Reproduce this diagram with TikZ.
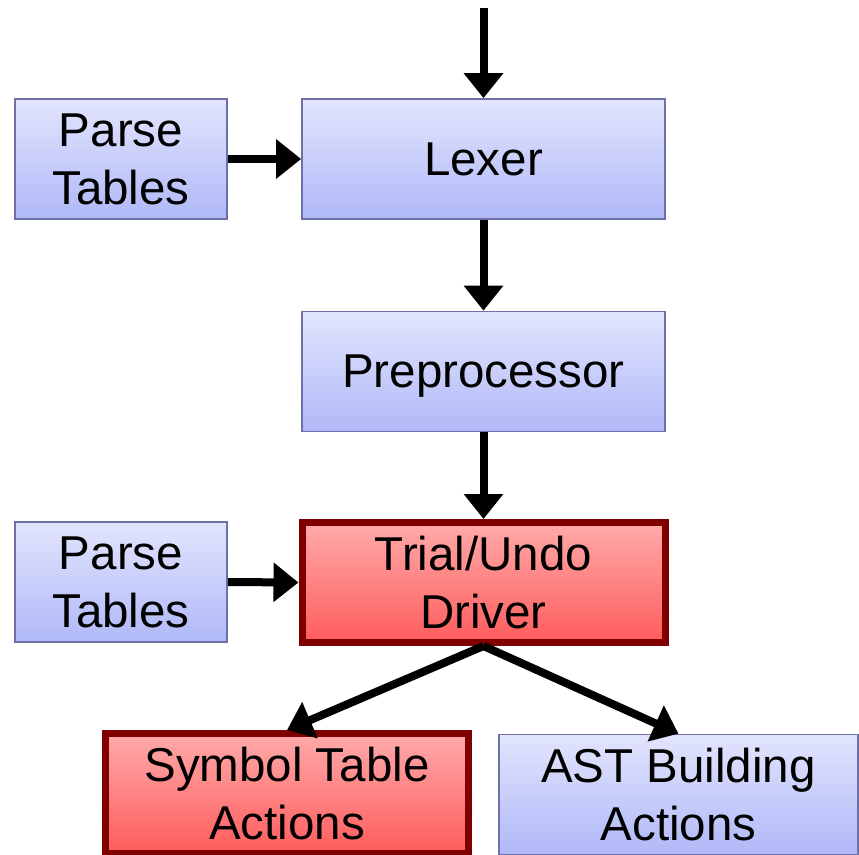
\documentclass[tikz,border=0pt]{standalone}
\usepackage{fontspec}
\setmainfont{Liberation Sans}
\usetikzlibrary{arrows.meta}
\definecolor{topblue}{RGB}{226,229,253}
\definecolor{botblue}{RGB}{176,184,248}
\definecolor{edgeblue}{RGB}{110,112,168}
\definecolor{topred}{RGB}{255,170,170}
\definecolor{botred}{RGB}{255,92,92}
\definecolor{edgered}{RGB}{128,0,0}
\begin{document}
\begin{tikzpicture}[x=1pt,y=-1pt,
  stage/.style={rectangle, draw=edgeblue, line width=1.6pt,
    top color=topblue, bottom color=botblue,
    minimum width=363pt, minimum height=120pt, align=center,
    font=\fontsize{47.5}{58}\selectfont, inner sep=0pt},
  sidebox/.style={stage, minimum width=212pt},
  hot/.style={stage, draw=edgered, line width=7pt,
    top color=topred, bottom color=botred},
  flow/.style={line width=8pt, -{Triangle[width=38pt,length=25pt]}}]
\useasboundingbox (0,0) rectangle (859,854);

\node[stage] (lexer) at (483.5,159) {Lexer};
\node[sidebox] (pt1) at (121,159) {Parse\\Tables};
\node[stage, text depth=0pt] (pre) at (483.5,371.5) {Preprocessor};
\node[hot] (trial) at (483.5,582.5) {Trial/Undo\\Driver};
\node[sidebox] (pt2) at (121,582) {Parse\\Tables};
\node[hot] (sym) at (287,793.5) {Symbol Table\\Actions};
\node[stage, minimum width=359pt] (ast) at (678.5,794.5) {AST Building\\Actions};

\coordinate (in) at (483.5,8);
\draw[flow] (in) -- (lexer.north);
\draw[flow] (pt1.east) -- (lexer.west);
\draw[flow] (lexer.south) -- (pre.north);
\draw[flow] (pre.south) -- (trial.north);
\draw[flow] (pt2.east) -- (trial.west);
\draw[flow] (trial.south) -- (sym.north);
\draw[flow] (trial.south) -- (ast.north);
\end{tikzpicture}
\end{document}
